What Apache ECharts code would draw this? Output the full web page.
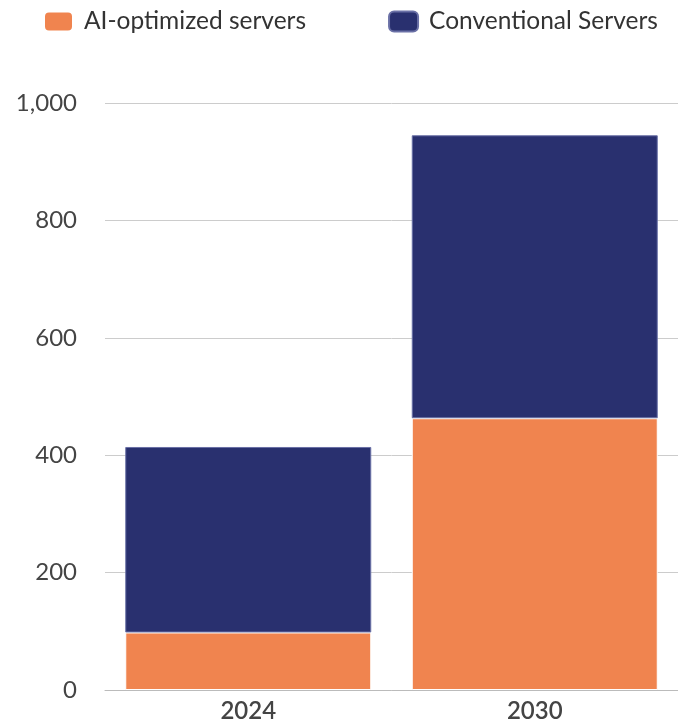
<!DOCTYPE html>
<html>
<head>
<meta charset="utf-8">
<script src="https://cdn.jsdelivr.net/npm/echarts@6/dist/echarts.min.js"></script>
<style>
html,body{margin:0;padding:0;background:#fff;}
#chart{width:678px;height:723px;}
</style>
</head>
<body>
<div id="chart"></div>
<script>
const categories = ['2024', '2030'];
const aiOptimized = [98, 463];
const conventional = [316, 482];
const yTicks = [0, 200, 400, 600, 800, 1000];

const chart = echarts.init(document.getElementById('chart'), null, {renderer: 'canvas'});
const font = 'Lato, "Open Sans", sans-serif';
chart.setOption({
  animation: false,
  legend: {
    left: 43, top: 9, padding: 0,
    itemWidth: 29, itemHeight: 20, itemGap: 82,
    icon: 'roundRect',
    textStyle: {fontFamily: font, fontSize: 24.5, color: '#333', lineHeight: 20, padding: [0, 0, 0, 6]},
    data: ['AI-optimized servers', 'Conventional Servers']
  },
  grid: {left: 105, right: -6, top: 103, bottom: 32, containLabel: false},
  xAxis: {
    type: 'category',
    data: categories,
    axisTick: {show: false},
    axisLine: {lineStyle: {color: '#bbbbbb', width: 1}},
    axisLabel: {fontFamily: font, fontSize: 24, fontWeight: 600, color: '#444', margin: 9}
  },
  yAxis: {
    type: 'value',
    min: yTicks[0], max: yTicks[yTicks.length - 1], interval: 200,
    axisLine: {show: false},
    axisTick: {show: false},
    splitLine: {lineStyle: {color: '#cccccc', width: 1}},
    axisLabel: {
      fontFamily: font, fontSize: 24, color: '#444', margin: 28,
      formatter: v => v.toLocaleString('en-US')
    }
  },
  series: [
    {
      name: 'AI-optimized servers', type: 'bar', stack: 'total',
      data: aiOptimized, barWidth: 246,
      itemStyle: {color: '#F0844F', borderColor: '#ffffff', borderWidth: 1}
    },
    {
      name: 'Conventional Servers', type: 'bar', stack: 'total',
      data: conventional, barWidth: 246,
      itemStyle: {color: '#29306F', borderColor: '#6a70a6', borderWidth: 1}
    }
  ]
});
</script>
</body>
</html>
